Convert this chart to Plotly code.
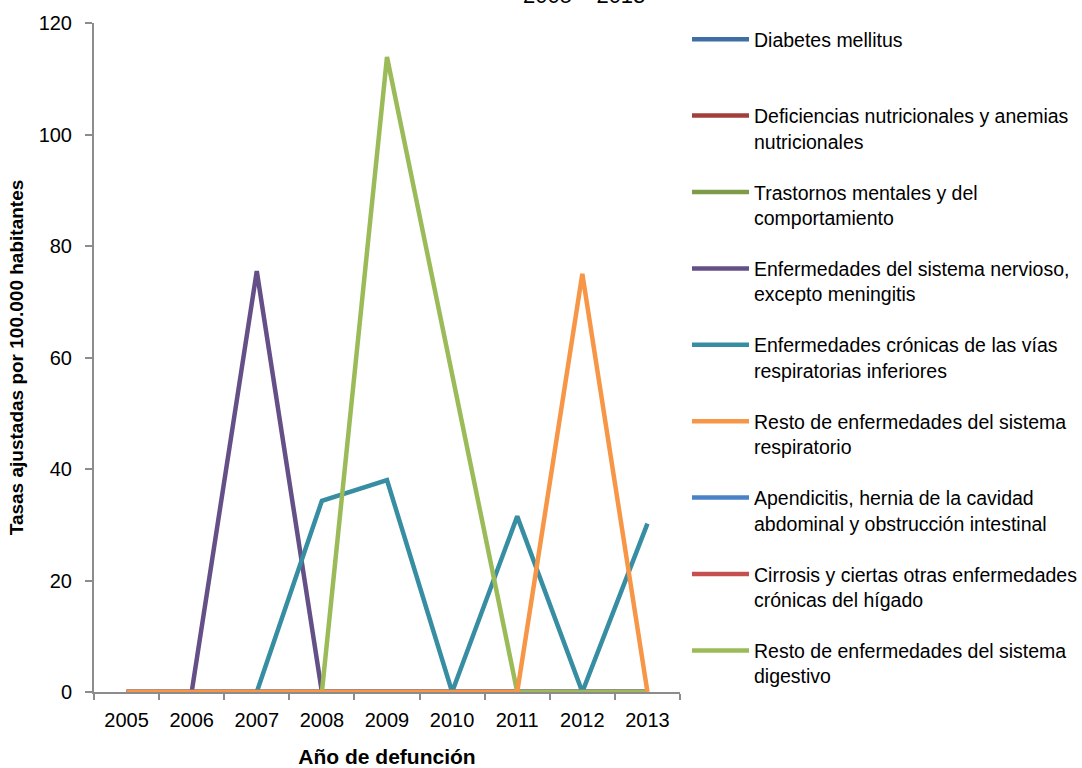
import plotly.graph_objects as go

# Years of death (category axis)
years = ["2005", "2006", "2007", "2008", "2009", "2010", "2011", "2012", "2013"]

# Adjusted rates per 100,000 inhabitants, one list per cause group
diabetes = [0, 0, 0, 0, 0, 0, 0, 0, 0]
deficiencias = [0, 0, 0, 0, 0, 0, 0, 0, 0]
trastornos = [0, 0, 0, 0, 0, 0, 0, 0, 0]
nervioso = [None, 0, 75.5, 0, 0, 0, 0, 0, 0]
cronicas_resp = [None, None, 0, 34.3, 38.0, 0, 31.5, 0, 30.2]
resto_resp = [0, 0, 0, 0, 0, 0, 0, 75.0, 0]
apendicitis = [0, 0, 0, 0, 0, 0, 0, 0, 0]
cirrosis = [0, 0, 0, 0, 0, 0, 0, 0, 0]
resto_digestivo = [None, None, None, 0, 113.9, 57.0, 0, 0, 0]

y_ticks = [0, 20, 40, 60, 80, 100, 120]

# (legend label, values, colour, legend position); list order is drawing order
series = [
    ("Diabetes mellitus<br> ", diabetes, "#3F6DA6", 1),
    ("Deficiencias nutricionales y anemias<br>nutricionales", deficiencias, "#A23F3B", 2),
    ("Trastornos mentales y del<br>comportamiento", trastornos, "#7F9A48", 3),
    ("Enfermedades del sistema nervioso,<br>excepto meningitis", nervioso, "#654F87", 4),
    ("Enfermedades crónicas de las vías<br>respiratorias inferiores", cronicas_resp, "#378DA2", 5),
    ("Apendicitis, hernia de la cavidad<br>abdominal y obstrucción intestinal", apendicitis, "#4A83C5", 7),
    ("Cirrosis y ciertas otras enfermedades<br>crónicas del hígado", cirrosis, "#C5504D", 8),
    ("Resto de enfermedades del sistema<br>digestivo", resto_digestivo, "#9BBB59", 9),
    ("Resto de enfermedades del sistema<br>respiratorio", resto_resp, "#F79646", 6),
]

FONT = "Liberation Sans, Arial, sans-serif"

W, H = 1082, 768
ML, MR, MT, MB = 94, 402, 23, 76

fig = go.Figure()
for name, vals, color, rank in series:
    fig.add_trace(go.Scatter(
        x=years, y=vals, name=name, mode="lines",
        line=dict(color=color, width=4.5),
        legendrank=rank, legendgroup=str(rank),
        connectgaps=False,
    ))

fig.update_layout(
    width=W, height=H,
    margin=dict(l=ML, r=MR, t=MT, b=MB, autoexpand=False),
    paper_bgcolor="white", plot_bgcolor="white",
    font=dict(family=FONT, size=20, color="black"),
    showlegend=True,
    legend=dict(
        xref="container", x=687 / W, xanchor="left",
        yref="container", y=1 - 20 / H, yanchor="top",
        maxheight=745,
        font=dict(family=FONT, size=19.5, color="black"),
        valign="top", itemwidth=57,
        tracegroupgap=22.7, bgcolor="rgba(0,0,0,0)",
        itemclick=False, itemdoubleclick=False,
    ),
    xaxis=dict(
        type="category", tickson="boundaries",
        range=[-0.5, 8.5],
        showline=True, linecolor="#8C8C8C", linewidth=2,
        ticks="outside", ticklen=6, tickcolor="#8C8C8C", tickwidth=1.5,
        ticklabelstandoff=9,
        showgrid=False, zeroline=False,
        tickfont=dict(family=FONT, size=20),
        title=dict(text="<b>Año de defunción</b>", font=dict(family=FONT, size=21), standoff=24),
    ),
    yaxis=dict(
        range=[0, 120], tickvals=y_ticks,
        showline=True, linecolor="#8C8C8C", linewidth=2,
        ticks="outside", ticklen=7, tickcolor="#8C8C8C", tickwidth=1.5,
        ticklabelstandoff=9,
        showgrid=False, zeroline=False,
        tickfont=dict(family=FONT, size=20),
        title=dict(text="<b>Tasas ajustadas por 100.000 habitantes</b>",
                   font=dict(family=FONT, size=19), standoff=10),
    ),
    annotations=[dict(
        text="2005 – 2013", x=(584 - ML) / (W - ML - MR), xref="paper",
        y=1.0, yref="paper",
        xanchor="center", yanchor="bottom", yshift=13, showarrow=False,
        font=dict(family=FONT, size=22, color="black"),
    )],
)

fig.write_html("out.html")
